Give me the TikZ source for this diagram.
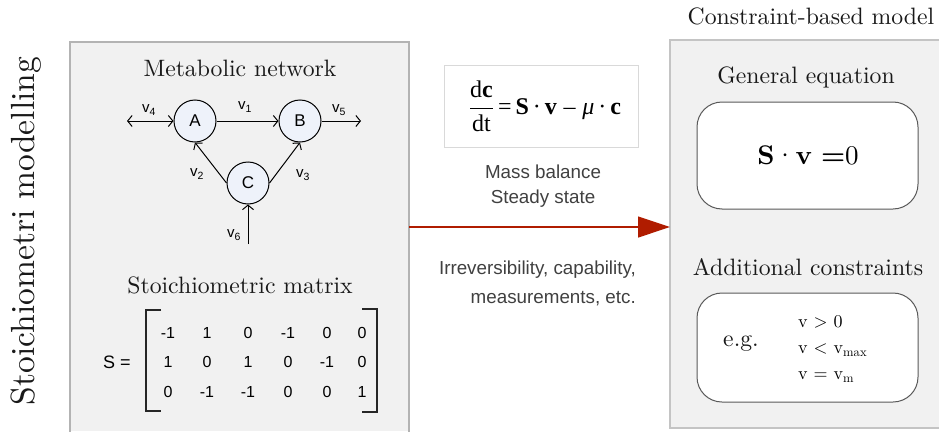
\documentclass[tikz,border=0pt]{standalone}
\usepackage{fontspec}
\setmainfont{lmroman10-regular}[Extension=.otf, BoldFont=lmroman10-bold, ItalicFont=lmroman10-italic, BoldItalicFont=lmroman10-bolditalic]
\newfontfamily\arial{Liberation Sans}
\newfontfamily\tms{Liberation Serif}
\usetikzlibrary{arrows.meta}
\definecolor{boxgray}{HTML}{F1F1F1}
\definecolor{boxline}{HTML}{B3B3B3}
\definecolor{boxlinetwo}{HTML}{C4C4C4}
\definecolor{nodefill}{HTML}{EEF2FA}
\definecolor{arrowred}{HTML}{B01C00}
\definecolor{txtgray}{HTML}{404040}
\begin{document}
\begin{tikzpicture}[x=1pt,y=-1pt,
  title/.style={font=\fontsize{23.7}{28}\selectfont, inner sep=0pt, text=black!90},
  met/.style={circle, draw=black, line width=1pt, fill=nodefill, minimum size=42pt, inner sep=0pt, font=\arial\fontsize{17}{20}\selectfont},
  flux/.style={line width=1pt, -{Straight Barb[length=4.5pt,width=11pt]}},
  vlab/.style={font=\arial\fontsize{15}{18}\selectfont, inner sep=0pt},
  num/.style={font=\arial\fontsize{16}{19}\selectfont, inner sep=0pt},
  sans/.style={font=\arial\fontsize{18.8}{25}\selectfont, text=txtgray, inner sep=0pt},
  rbox/.style={draw=black!65, line width=1pt, fill=white, rounded corners=25pt, inner sep=0pt}
]
\useasboundingbox (0,0) rectangle (939,431);
% left panel
\fill[boxgray] (70,42) rectangle (409,431);
\draw[boxline, line width=2.5pt] (70,433) -- (70,42) -- (409,42) -- (409,433);
% right panel
\fill[boxgray] (670,40) rectangle (940,428);
\draw[boxlinetwo, line width=1.5pt] (941,40) -- (670,40) -- (670,428) -- (941,428);

% side title
\node[title, rotate=90, font=\fontsize{33.5}{40}\selectfont] (side) at (26,231) {Stoichiometri modelling};

% metabolic network
\node[title] (metab) at (240,68) {Metabolic network};
\node[met] (A) at (195,121) {A};
\node[met] (B) at (300,121) {B};
\node[met] (C) at (248,183) {C};
\coordinate (v4end) at (127,121);
\coordinate (v5end) at (361,121);
\coordinate (v6start) at (248,244);
\draw[flux, {Straight Barb[length=4.5pt,width=11pt]}-{Straight Barb[length=4.5pt,width=11pt]}] (v4end) -- (A);
\draw[flux] (A) -- (B);
\draw[flux] (B) -- (v5end);
\draw[flux] (C.west) -- (A.south);
\draw[flux] (C.east) -- (B.south);
\draw[flux] (v6start) -- (C);
\node[vlab] (l4) at (149,110) {v\textsubscript{4}};
\node[vlab] (l1) at (245,107) {v\textsubscript{1}};
\node[vlab] (l5) at (339,110) {v\textsubscript{5}};
\node[vlab] (l2) at (197,174) {v\textsubscript{2}};
\node[vlab] (l3) at (303,175) {v\textsubscript{3}};
\node[vlab] (l6) at (234,235) {v\textsubscript{6}};

% stoichiometric matrix
\node[title] (stoich) at (240,285) {Stoichiometric matrix};
\node[font=\arial\fontsize{18}{21}\selectfont, inner sep=0pt] (Slab) at (117,362) {S =};
\foreach \x/\v [count=\c] in {168/-1,207/1,248/0,288/-1,327/0,362/0}
  \node[num] (ma\c) at (\x,333) {\v};
\foreach \x/\v [count=\c] in {168/1,207/0,248/1,288/0,327/-1,362/0}
  \node[num] (mb\c) at (\x,362) {\v};
\foreach \x/\v [count=\c] in {168/0,207/-1,248/-1,288/0,327/0,362/1}
  \node[num] (mc\c) at (\x,392) {\v};
\draw[line width=1.6pt, black!85] (161,310) -- (146,310) -- (146,411) -- (161,411);
\draw[line width=1.6pt, black!85] (362,309) -- (377,309) -- (377,412) -- (362,412);

% equation box
\node[draw=black!15, line width=1pt, fill=white, minimum width=194pt, minimum height=82pt, inner sep=0pt] (eqbox) at (541,106) {};
\node[font=\tms\fontsize{24}{28}\selectfont, inner sep=0pt] (eq) at (545,106)
  {$\displaystyle\frac{\mbox{d\textbf{c}}}{\mbox{dt}}$\,=\,\textbf{S}\,·\,\textbf{v}\;–\;\textit{μ}\,·\,\textbf{c}};
\node[sans, align=center] (mb) at (543,186) {Mass balance\\Steady state};
\node[sans, align=right, anchor=east, font=\arial\fontsize{18.8}{29}\selectfont] (irr) at (636,283) {Irreversibility, capability,\\measurements, etc.};

% main arrow
\coordinate (arrS) at (409,227);
\coordinate (arrE) at (670,227);
\draw[arrowred, line width=1.2pt, -{Triangle[length=32pt,width=21pt]}] (arrS) -- (arrE);

% constraint-based model
\node[title] (cbm) at (811,16) {Constraint-based model};
\node[title] (geq) at (806,77) {General equation};
\node[rbox, minimum width=221pt, minimum height=107pt] (gbox) at (807.5,155.5) {};
\node[font=\fontsize{27}{32}\selectfont, inner sep=0pt] (sv) at (808,155) {{\bfseries S}·{\bfseries v} {\bfseries =}0};
\node[title] (acon) at (808,267) {Additional constraints};
\node[rbox, minimum width=221pt, minimum height=109pt] (cbox) at (807.5,347.5) {};
\node[title] (eg) at (741,344) {e.g.};
\node[font=\fontsize{18}{26}\selectfont, align=left, anchor=west, inner sep=0pt] (cons) at (798,349) {v > 0\\v < v\textsubscript{max}\\v = v\textsubscript{m}};
\end{tikzpicture}
\end{document}
